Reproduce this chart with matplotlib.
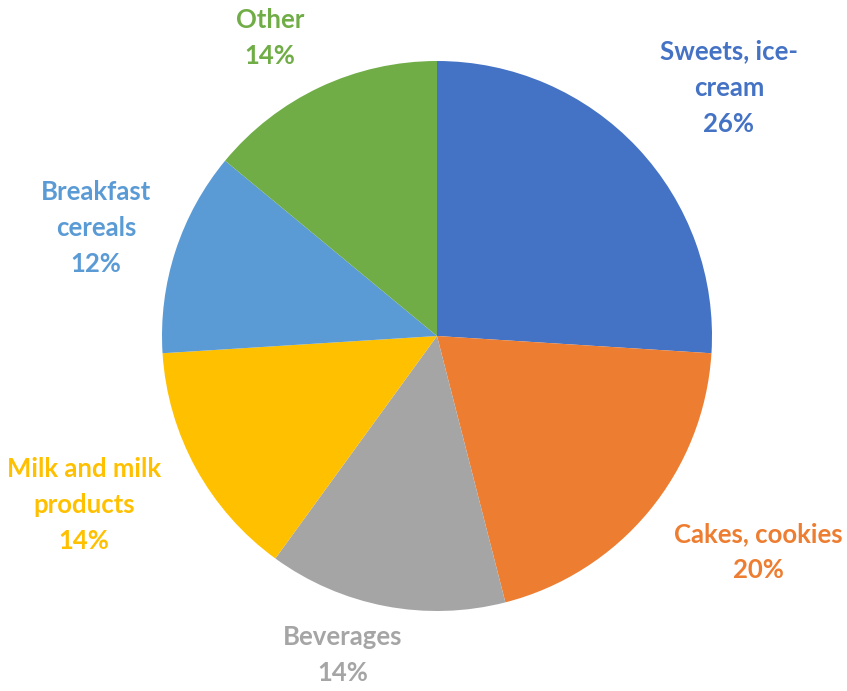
import matplotlib
matplotlib.use("Agg")
import matplotlib.pyplot as plt

categories = ["Sweets, ice-\ncream", "Cakes, cookies", "Beverages", "Milk and milk\nproducts", "Breakfast\ncereals", "Other"]
shares = [26, 20, 14, 14, 12, 14]
colors = ["#4472C4", "#ED7D31", "#A5A5A5", "#FFC000", "#5B9BD5", "#70AD47"]
# label centers in pixel coordinates (x, y from top)
label_pos = [(729, 88), (758, 552), (343, 655), (84, 505), (96, 228), (270, 38)]

W, H = 847, 691
fig = plt.figure(figsize=(W / 100, H / 100), dpi=100)
ax = fig.add_axes([0, 0, 1, 1])

cx, cy, r = 437, 336, 275
ax.pie(shares, colors=colors, startangle=90, counterclock=False,
       center=(cx, H - cy), radius=r, frame=True,
       wedgeprops=dict(linewidth=0))
ax.set_xlim(0, W)
ax.set_ylim(0, H)
ax.set_aspect("equal")
ax.axis("off")

for cat, val, col, (lx, ly) in zip(categories, shares, colors, label_pos):
    ax.text(lx, H - ly, f"{cat}\n{val}%", color=col, ha="center", va="center",
            fontsize=18.5, fontweight="bold", family="Lato", linespacing=1.62)

fig.savefig("out.png", dpi=100)
